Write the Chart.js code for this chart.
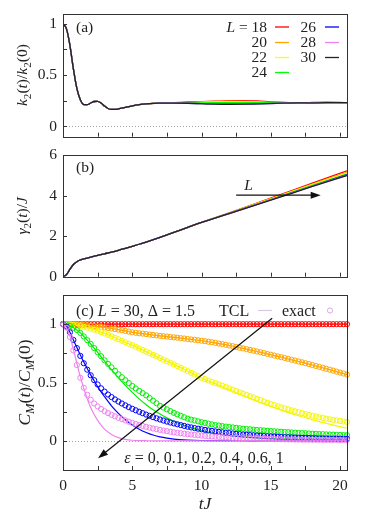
<!DOCTYPE html>
<html><head><meta charset="utf-8">
<script src="https://cdn.jsdelivr.net/npm/chart.js@4"></script>
<style>
html,body{margin:0;padding:0;background:#fff;width:374px;height:518px;overflow:hidden;position:relative}
canvas{position:absolute;left:0}
</style></head><body>
<canvas id="ca" width="374" height="150" style="top:0px"></canvas>
<canvas id="cb" width="374" height="145" style="top:145px"></canvas>
<canvas id="cc" width="374" height="228" style="top:290px"></canvas>
<script>
// ---------- DATA ----------
const sizesL = [18, 20, 22, 24, 26, 28, 30];
// panel (a): k2(t)/k2(0)
const tK = [0,0.25,0.5,0.75,1,1.25,1.5,1.75,2,2.25,2.5,2.75,3,3.25,3.5,3.75,4,4.5,5,5.5,6,
            7,8,9,10,11,12,13,14,15,16,17,18,19,20,20.5];
const kEarly = [1,.95,.79,.56,.37,.26,.213,.212,.228,.243,.245,.228,.198,.175,.166,.166,.17,.185,.2,.212,.22];
const kLate18 = [.228,.232,.238,.242,.246,.25,.252,.248,.24,.234,.231,.233,.236,.233,.231];
const kLate20 = [.228,.23,.235,.239,.243,.246,.245,.24,.235,.232,.231,.232,.233,.232,.231];
const kLate22 = [.227,.229,.232,.235,.238,.24,.24,.236,.232,.23,.23,.231,.232,.231,.231];
const kLate24 = [.227,.228,.229,.23,.231,.232,.232,.231,.23,.23,.23,.231,.232,.231,.231];
const kLate26 = [.227,.227,.225,.222,.219,.217,.217,.219,.222,.226,.228,.23,.231,.231,.231];
const kLate28 = [.227,.227,.226,.223,.22,.218,.218,.22,.223,.226,.228,.232,.235,.232,.231];
const kLate30 = [.227,.228,.226,.222,.218,.216,.217,.22,.224,.227,.229,.23,.231,.231,.231];
// panel (b): gamma2(t)/J
const tG = [0,0.25,0.5,0.75,1,1.25,1.5,2,2.5,3,3.5,4,4.5,5,5.5,6,7,8,9,10,12,14,16,18,20.5];
const gEarly = [0,.1,.37,.6,.74,.83,.88,.97,1.05,1.13,1.21,1.3,1.4,1.5,1.6,1.71,1.94,2.18,2.43,2.68];
const gLate18 = [3.15,3.63,4.12,4.61,5.22];
const gLate20 = [3.14,3.61,4.09,4.57,5.16];
const gLate22 = [3.13,3.60,4.07,4.54,5.11];
const gLate24 = [3.12,3.58,4.04,4.50,5.06];
const gLate26 = [3.12,3.57,4.02,4.47,5.03];
const gLate28 = [3.11,3.56,4.01,4.46,5.01];
const gLate30 = [3.11,3.55,4.00,4.45,4.99];
// panel (c): C_M(t)/C_M(0), eps = 0, 0.1, 0.2, 0.4, 0.6, 1
const epsList = [0, 0.1, 0.2, 0.4, 0.6, 1];
const tExact = [0,0.25,0.5,0.75,1,1.25,1.5,1.75,2,2.25,2.5,2.75,3,3.25,3.5,3.75,4,4.25,4.5,4.75,
  5,5.25,5.5,5.75,6,6.25,6.5,6.75,7,7.25,7.5,7.75,8,8.25,8.5,8.75,9,9.25,9.5,9.75,
  10,10.25,10.5,10.75,11,11.25,11.5,11.75,12,12.25,12.5,12.75,13,13.25,13.5,13.75,14,14.25,14.5,14.75,
  15,15.25,15.5,15.75,16,16.25,16.5,16.75,17,17.25,17.5,17.75,18,18.25,18.5,18.75,19,19.25,19.5,19.75,
  20,20.25,20.5];
const exact0 = [1,1,1,1,1,1,1,1,1,1,1,1,1,1,1,1,1,1,1,1,
  1,1,1,1,1,1,1,1,1,1,1,1,1,1,1,1,1,1,1,1,
  1,1,1,1,1,1,1,1,1,1,1,1,1,1,1,1,1,1,1,1,
  1,1,1,1,1,1,1,1,1,1,1,1,1,1,1,1,1,1,1,1,
  1,1,1];
const exact01 = [1,1,.999,.998,.997,.995,.993,.99,.987,.984,.98,.976,.972,.968,.963,.958,.953,.948,.942,.936,
  .93,.926,.922,.919,.915,.911,.907,.904,.9,.897,.894,.89,.887,.884,.88,.877,.873,.869,.866,.862,
  .858,.854,.849,.845,.84,.834,.829,.823,.817,.811,.805,.798,.792,.786,.779,.773,.766,.759,.752,.745,
  .738,.731,.724,.717,.71,.703,.695,.688,.68,.673,.665,.658,.65,.642,.634,.626,.618,.61,.602,.593,
  .585,.577,.568];
const exact02 = [1,.999,.997,.994,.99,.985,.978,.97,.962,.953,.943,.932,.921,.909,.897,.884,.871,.858,.845,.832,
  .82,.806,.792,.779,.765,.751,.737,.724,.71,.696,.682,.669,.655,.641,.626,.612,.597,.583,.568,.554,
  .54,.529,.517,.506,.495,.484,.472,.461,.45,.439,.427,.416,.405,.394,.382,.371,.36,.349,.337,.326,
  .315,.306,.296,.287,.278,.27,.261,.253,.245,.237,.23,.222,.215,.209,.202,.196,.19,.185,.18,.175,
  .17,.166,.162];
const exact04 = [1,.997,.985,.97,.95,.925,.895,.863,.83,.795,.76,.725,.69,.66,.63,.6,.57,.545,.52,.495,
  .47,.449,.428,.409,.39,.367,.344,.322,.3,.285,.27,.255,.24,.227,.215,.202,.19,.182,.175,.167,
  .16,.154,.147,.141,.135,.131,.126,.122,.118,.115,.111,.108,.104,.101,.099,.096,.093,.091,.089,.086,
  .084,.082,.08,.078,.076,.074,.072,.07,.068,.066,.065,.063,.061,.06,.058,.057,.055,.054,.053,.051,
  .05,.049,.048];
const exact06 = [1,.98,.93,.865,.795,.728,.665,.61,.562,.52,.483,.45,.422,.397,.375,.355,.337,.32,.304,.289,
  .275,.262,.249,.237,.225,.214,.203,.193,.183,.174,.165,.157,.149,.142,.135,.128,.121,.115,.109,.104,
  .099,.094,.089,.085,.081,.077,.073,.069,.066,.063,.06,.057,.054,.052,.049,.047,.045,.043,.041,.039,
  .037,.036,.034,.033,.031,.03,.029,.028,.027,.026,.025,.024,.023,.022,.021,.021,.02,.019,.019,.018,
  .018,.017,.017];
const exact1 = [1,.97,.89,.775,.65,.54,.455,.395,.352,.32,.295,.273,.254,.238,.223,.21,.197,.186,.175,.164,
  .154,.145,.136,.128,.12,.113,.106,.1,.094,.088,.083,.078,.073,.069,.065,.061,.057,.054,.051,.048,
  .045,.043,.04,.038,.036,.034,.032,.03,.029,.027,.026,.024,.023,.022,.021,.02,.019,.018,.017,.016,
  .015,.015,.014,.013,.013,.012,.012,.011,.011,.01,.01,.01,.009,.009,.009,.008,.008,.008,.008,.007,
  .007,.007,.007];
const tLine = [0,0.25,0.5,0.75,1,1.25,1.5,1.75,2,2.25,2.5,2.75,3,
  3.5,4,4.5,5,5.5,6,6.5,7,7.5,8,
  9,10,11,12,13,14,15,16,17,18,19,20,20.5];
const tcl0 = [1,1,1,1,1,1,1,1,1,1,1,1,1, 1,1,1,1,1,1,1,1,1,1, 1,1,1,1,1,1,1,1,1,1,1,1, 1];
const tcl01 = [1,1,.999,.998,.997,.995,.993,.99,.987,.984,.98,.976,.972,
  .963,.953,.942,.93,.922,.915,.907,.9,.894,.887,
  .873,.858,.84,.817,.792,.766,.738,.71,.68,.65,.618,.585, .568];
const tcl02 = [1,.999,.997,.994,.99,.985,.978,.97,.962,.953,.943,.932,.921,
  .897,.871,.845,.82,.792,.765,.737,.71,.682,.655,
  .597,.538,.488,.438,.388,.34,.295,.253,.215,.18,.15,.122, .11];
const tcl04 = [1,.997,.985,.97,.95,.925,.895,.863,.83,.795,.758,.72,.683,
  .61,.54,.475,.415,.36,.31,.267,.23,.197,.168,
  .122,.088,.063,.046,.034,.026,.02,.016,.013,.012,.011,.01, .01];
const tcl06 = [1,.98,.93,.865,.8,.735,.675,.62,.565,.515,.465,.42,.378,
  .3,.235,.18,.135,.1,.072,.05,.034,.023,.015,
  .007,.003,.002,.001,.001,0,0,0,0,0,0,0, 0];
const tcl1 = [1,.97,.895,.785,.665,.55,.45,.36,.285,.225,.175,.135,.1,
  .055,.027,.012,.005,.002,.001,0,0,0,0,
  0,0,0,0,0,0,0,0,0,0,0,0, 0];
// tick values
const xTickLabels = [0, 5, 10, 15, 20];
const xTickMarks = [2.5, 5, 7.5, 10, 12.5, 15, 17.5, 20];
const yTickLabelsA = [0, 0.5, 1];
const yTickMarksA = [0, 0.25, 0.5, 0.75, 1];
const yTickLabelsB = [0, 2, 4, 6];
const yTickMarksB = [2, 4];
const yTickLabelsC = [0, 0.5, 1];
const yTickMarksC = [0, 0.25, 0.5, 0.75, 1];
// annotation anchors (data units)
const arrowBFrom = [12.5, 4.02], arrowBTo = [18.6, 4.02], labelBL = [13.4, 4.55];
const arrowCFrom = [15.1, 1.05], arrowCTo = [2.53, -0.15];

// ---------- STYLE ----------
const FONT = "'Liberation Serif','DejaVu Serif',serif";
const colorsL = ['#ff0000', '#ffa500', '#ffff00', '#00ff00', '#0000ff', '#ee82ee', '#222222'];
const colorsE = ['#ff0000', '#ffa500', '#f5f500', '#00ee00', '#0000ff', '#ee82ee'];
const TXT = '#222';

function segFont(s, size) {
  const st = s[1] || '';
  const it = st.includes('i'), sub = st.includes('s');
  return (it ? 'italic ' : '') + (sub ? size * 0.72 : size).toFixed(1) + 'px ' + FONT;
}
function drawRich(ctx, segs, x, y, size, align, rot) {
  ctx.save();
  ctx.translate(x, y);
  if (rot) ctx.rotate(-Math.PI / 2);
  let w = 0;
  for (const s of segs) { ctx.font = segFont(s, size); w += ctx.measureText(s[0]).width; }
  let cx = align === 'center' ? -w / 2 : align === 'right' ? -w : 0;
  ctx.textAlign = 'left'; ctx.textBaseline = 'alphabetic'; ctx.fillStyle = TXT;
  for (const s of segs) {
    ctx.font = segFont(s, size);
    const sub = (s[1] || '').includes('s');
    ctx.fillText(s[0], cx, size * 0.35 + (sub ? size * 0.22 : 0));
    cx += ctx.measureText(s[0]).width;
  }
  ctx.restore();
}
function drawArrow(ctx, x1, y1, x2, y2) {
  const ang = Math.atan2(y2 - y1, x2 - x1), hl = 10, hw = 3.5;
  ctx.save();
  ctx.strokeStyle = '#111'; ctx.fillStyle = '#111'; ctx.lineWidth = 1.2;
  ctx.beginPath(); ctx.moveTo(x1, y1);
  ctx.lineTo(x2 - hl * 0.8 * Math.cos(ang), y2 - hl * 0.8 * Math.sin(ang)); ctx.stroke();
  ctx.beginPath(); ctx.moveTo(x2, y2);
  ctx.lineTo(x2 - hl * Math.cos(ang) + hw * Math.sin(ang), y2 - hl * Math.sin(ang) - hw * Math.cos(ang));
  ctx.lineTo(x2 - hl * Math.cos(ang) - hw * Math.sin(ang), y2 - hl * Math.sin(ang) + hw * Math.cos(ang));
  ctx.closePath(); ctx.fill();
  ctx.restore();
}

function makePlugin(cfg) {
  return {
    id: 'frame_' + cfg.id,
    beforeDatasetsDraw(chart) {
      if (!cfg.zero) return;
      const { ctx, chartArea: a, scales: { y } } = chart;
      ctx.save();
      ctx.strokeStyle = '#8a8a8a'; ctx.lineWidth = 0.8; ctx.setLineDash([1, 2]);
      const yy = Math.round(y.getPixelForValue(0)) + 0.5;
      ctx.beginPath(); ctx.moveTo(a.left, yy); ctx.lineTo(a.right, yy); ctx.stroke();
      ctx.restore();
    },
    afterDraw(chart) {
      const { ctx, chartArea: a, scales: { x, y } } = chart;
      ctx.save();
      ctx.strokeStyle = '#333'; ctx.lineWidth = 1;
      ctx.strokeRect(Math.round(a.left) + 0.5, Math.round(a.top) + 0.5,
        Math.round(a.right) - Math.round(a.left), Math.round(a.bottom) - Math.round(a.top));
      ctx.beginPath();
      for (const v of xTickMarks) {
        const px = Math.round(x.getPixelForValue(v)) + 0.5;
        ctx.moveTo(px, a.bottom); ctx.lineTo(px, a.bottom - 4);
      }
      for (const v of cfg.yMarks) {
        const py = Math.round(y.getPixelForValue(v)) + 0.5;
        ctx.moveTo(a.left, py); ctx.lineTo(a.left + 4, py);
      }
      ctx.stroke();
      ctx.restore();
      drawRich(ctx, cfg.ytitle, cfg.ytitleX, (a.top + a.bottom) / 2, cfg.ytitleSize, 'center', true);
      if (cfg.extra) cfg.extra(chart, ctx, a, x, y);
    }
  };
}

function baseOptions(cfg) {
  return {
    responsive: false, animation: false, devicePixelRatio: 1,
    layout: { padding: { left: 0, right: 27, top: cfg.padTop, bottom: 0 } },
    plugins: { legend: { display: false }, tooltip: { enabled: false } },
    elements: { point: { radius: 0 } },
    scales: {
      x: {
        type: 'linear', min: 0, max: 20.5,
        grid: { display: false, drawTicks: false }, border: { display: false },
        afterBuildTicks: s => { s.ticks = xTickLabels.map(v => ({ value: v })); },
        afterFit: s => { s.height = cfg.xHeight; s.paddingLeft = 0; s.paddingRight = 0; },
        ticks: { display: cfg.xLabels, padding: 7, color: TXT, font: { family: FONT, size: 15.5 }, maxRotation: 0,
                 callback: v => String(v) }
      },
      y: {
        type: 'linear', min: cfg.ymin, max: cfg.ymax,
        grid: { display: false, drawTicks: false }, border: { display: false },
        afterBuildTicks: s => { s.ticks = cfg.yLabels.map(v => ({ value: v })); },
        afterFit: s => { s.width = 63; s.paddingTop = 0; s.paddingBottom = 0; },
        ticks: { padding: 6, color: TXT, font: { family: FONT, size: 15.5 }, callback: v => String(v) }
      }
    }
  };
}

// ---------- PANEL A ----------
const kLates = [kLate18, kLate20, kLate22, kLate24, kLate26, kLate28, kLate30];
const dsA = sizesL.map((L, i) => ({
  label: 'L=' + L,
  data: tK.map((t, j) => ({ x: t, y: j < kEarly.length ? kEarly[j] : kLates[i][j - kEarly.length] })),
  borderColor: colorsL[i], borderWidth: 1.3, cubicInterpolationMode: 'monotone', order: sizesL.length - i
}));
const optA = baseOptions({ padTop: 13.5, xHeight: 13.3, xLabels: false, ymin: -0.1, ymax: 1.1, yLabels: yTickLabelsA });
new Chart(document.getElementById('ca'), {
  type: 'line', data: { datasets: dsA }, options: optA,
  plugins: [makePlugin({
    id: 'a', zero: true, yMarks: yTickMarksA, ytitleX: 22, ytitleSize: 15.5,
    ytitle: [['k', 'i'], ['2', 's'], ['(', ''], ['t', 'i'], [')/', ''], ['k', 'i'], ['2', 's'], ['(0)', '']],
    extra(chart, ctx, a) {
      drawRich(ctx, [['(a)', '']], 76, 26.5, 15.5, 'left');
      const rowY = [26.5, 42, 57, 72];
      sizesL.forEach((L, i) => {
        const col = i < 4 ? 0 : 1, row = i < 4 ? i : i - 4;
        const tx = col === 0 ? 267 : 316, lx = col === 0 ? 275 : 325;
        const segs = i === 0 ? [['L', 'i'], [' = ' + L, '']] : [[String(L), '']];
        drawRich(ctx, segs, tx, rowY[row], 15.5, 'right');
        ctx.save(); ctx.strokeStyle = colorsL[i]; ctx.lineWidth = 1.3;
        ctx.beginPath(); ctx.moveTo(lx, rowY[row] + 0.5); ctx.lineTo(lx + 14, rowY[row] + 0.5); ctx.stroke();
        ctx.restore();
      });
    }
  })]
});

// ---------- PANEL B ----------
const gLates = [gLate18, gLate20, gLate22, gLate24, gLate26, gLate28, gLate30];
const dsB = sizesL.map((L, i) => ({
  label: 'L=' + L,
  data: tG.map((t, j) => ({ x: t, y: j < gEarly.length ? gEarly[j] : gLates[i][j - gEarly.length] })),
  borderColor: colorsL[i], borderWidth: 1.3, cubicInterpolationMode: 'monotone', order: sizesL.length - i
}));
const optB = baseOptions({ padTop: 10, xHeight: 13.3, xLabels: false, ymin: 0, ymax: 6, yLabels: yTickLabelsB });
new Chart(document.getElementById('cb'), {
  type: 'line', data: { datasets: dsB }, options: optB,
  plugins: [makePlugin({
    id: 'b', zero: false, yMarks: yTickMarksB, ytitleX: 22, ytitleSize: 15.5,
    ytitle: [['γ', 'i'], ['2', 's'], ['(', ''], ['t', 'i'], [')/', ''], ['J', 'i']],
    extra(chart, ctx, a, x, y) {
      drawRich(ctx, [['(b)', '']], 76, a.top + 12, 15.5, 'left');
      drawArrow(ctx, x.getPixelForValue(arrowBFrom[0]), y.getPixelForValue(arrowBFrom[1]),
        x.getPixelForValue(arrowBTo[0]), y.getPixelForValue(arrowBTo[1]));
      drawRich(ctx, [['L', 'i']], x.getPixelForValue(labelBL[0]), y.getPixelForValue(labelBL[1]), 15.5, 'center');
    }
  })]
});

// ---------- PANEL C ----------
const exactSets = [exact0, exact01, exact02, exact04, exact06, exact1];
const tclSets = [tcl0, tcl01, tcl02, tcl04, tcl06, tcl1];
const dsC = [];
epsList.forEach((e, i) => {
  dsC.push({
    label: 'TCL eps=' + e, data: tLine.map((t, j) => ({ x: t, y: tclSets[i][j] })),
    borderColor: colorsE[i], borderWidth: 1.2, cubicInterpolationMode: 'monotone', pointRadius: 0,
    order: 2 * (epsList.length - i) + 1
  });
  dsC.push({
    label: 'exact eps=' + e, data: tExact.map((t, j) => ({ x: t, y: exactSets[i][j] })),
    showLine: false, pointRadius: 2.6, pointBorderWidth: 1, pointStyle: 'circle',
    pointBorderColor: colorsE[i], pointBackgroundColor: 'rgba(0,0,0,0)', borderColor: colorsE[i],
    clip: false, order: 2 * (epsList.length - i)
  });
});
const optC = baseOptions({ padTop: 4, xHeight: 48, xLabels: true, ymin: -0.25, ymax: 1.25, yLabels: yTickLabelsC });
new Chart(document.getElementById('cc'), {
  type: 'line', data: { datasets: dsC }, options: optC,
  plugins: [makePlugin({
    id: 'c', zero: true, yMarks: yTickMarksC, ytitleX: 24, ytitleSize: 17.5,
    ytitle: [['C', 'i'], ['M', 'si'], ['(', ''], ['t', 'i'], [')/', ''], ['C', 'i'], ['M', 'si'], ['(0)', '']],
    extra(chart, ctx, a, x, y) {
      drawRich(ctx, [['(c) ', ''], ['L', 'i'], [' = 30, Δ = 1.5', '']], 76, 20, 16, 'left');
      drawRich(ctx, [['TCL', '']], 219, 20, 16, 'left');
      ctx.save(); ctx.strokeStyle = '#d6c8e2'; ctx.lineWidth = 1.2;
      ctx.beginPath(); ctx.moveTo(258, 20.5); ctx.lineTo(272, 20.5); ctx.stroke();
      ctx.strokeStyle = '#d8a8e6'; ctx.lineWidth = 1;
      ctx.beginPath(); ctx.arc(330, 20.5, 2.6, 0, Math.PI * 2); ctx.stroke();
      ctx.restore();
      drawRich(ctx, [['exact', '']], 282, 20, 16, 'left');
      drawArrow(ctx, x.getPixelForValue(arrowCFrom[0]), y.getPixelForValue(arrowCFrom[1]),
        x.getPixelForValue(arrowCTo[0]), y.getPixelForValue(arrowCTo[1]));
      drawRich(ctx, [['ε', 'i'], [' = 0, 0.1, 0.2, 0.4, 0.6, 1', '']], 204, a.bottom - 13, 16, 'center');
      drawRich(ctx, [['tJ', 'i']], (a.left + a.right) / 2, 213, 17.5, 'center');
    }
  })]
});
</script>
</body></html>
